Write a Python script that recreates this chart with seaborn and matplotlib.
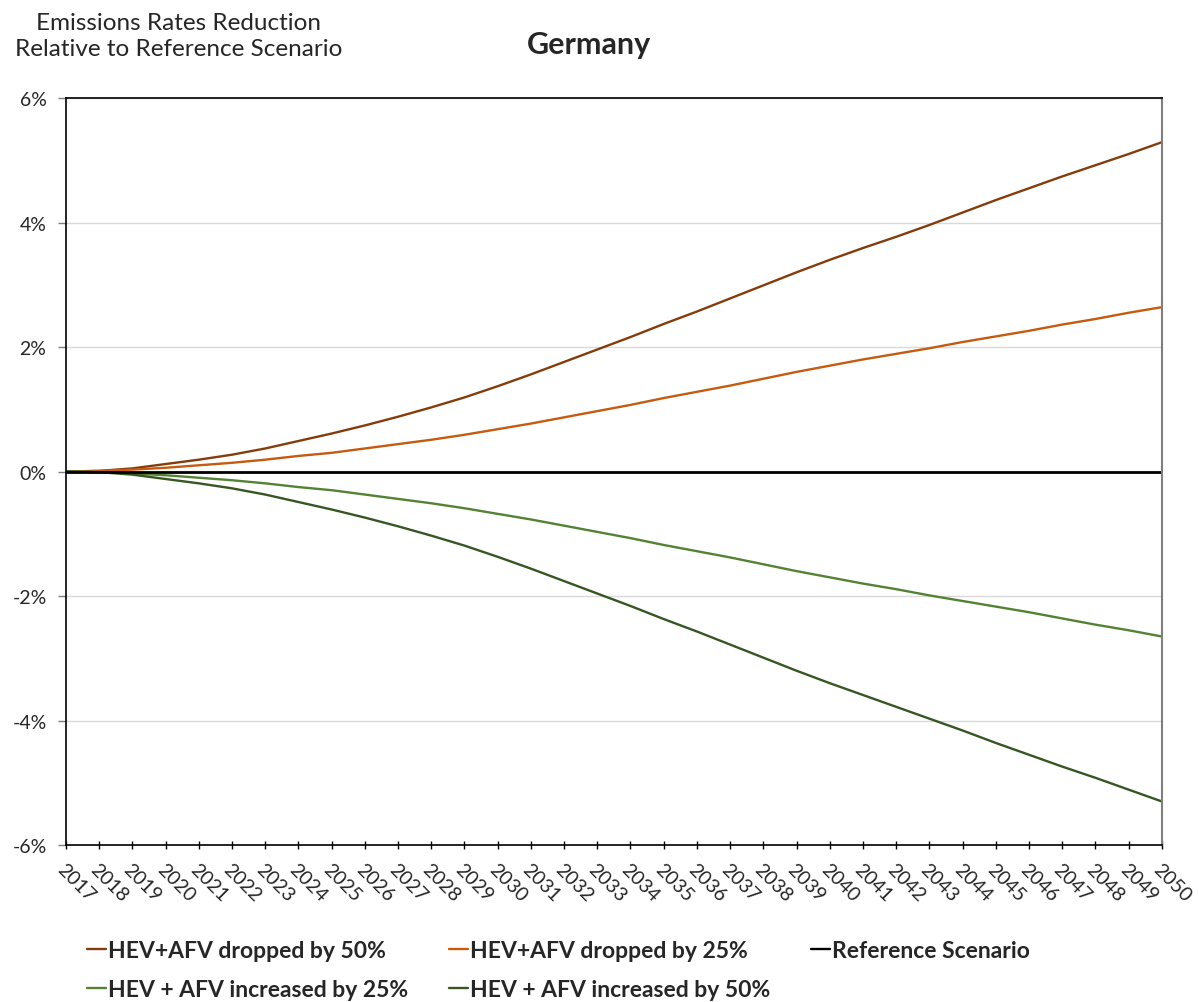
import matplotlib
matplotlib.use("Agg")
import matplotlib.pyplot as plt
import matplotlib.ticker as mticker
from matplotlib.lines import Line2D
import numpy as np
import pandas as pd
import seaborn as sns

years = list(range(2017, 2051))

dropped_50 = [0.00, 0.01, 0.05, 0.12, 0.19, 0.27, 0.37, 0.49, 0.61, 0.74,
              0.88, 1.03, 1.19, 1.37, 1.56, 1.76, 1.96, 2.16, 2.37, 2.57,
              2.78, 2.99, 3.20, 3.40, 3.59, 3.77, 3.96, 4.16, 4.36, 4.55,
              4.74, 4.92, 5.10, 5.29]
dropped_25 = [0.00, 0.01, 0.03, 0.06, 0.10, 0.14, 0.19, 0.25, 0.30, 0.37,
              0.44, 0.51, 0.59, 0.68, 0.77, 0.87, 0.97, 1.07, 1.18, 1.28,
              1.38, 1.49, 1.60, 1.70, 1.80, 1.89, 1.98, 2.08, 2.17, 2.26,
              2.36, 2.45, 2.55, 2.64]
reference = [0.0] * len(years)
increased_25 = [0.00, -0.01, -0.03, -0.06, -0.10, -0.14, -0.19, -0.25, -0.30, -0.37,
                -0.44, -0.51, -0.59, -0.68, -0.77, -0.87, -0.97, -1.07, -1.18, -1.28,
                -1.38, -1.49, -1.60, -1.70, -1.80, -1.89, -1.99, -2.08, -2.17, -2.26,
                -2.36, -2.46, -2.55, -2.65]
increased_50 = [0.00, -0.01, -0.05, -0.12, -0.19, -0.27, -0.37, -0.49, -0.61, -0.74,
                -0.88, -1.03, -1.19, -1.37, -1.56, -1.76, -1.96, -2.16, -2.37, -2.57,
                -2.78, -2.99, -3.20, -3.40, -3.59, -3.78, -3.97, -4.16, -4.36, -4.55,
                -4.74, -4.92, -5.11, -5.30]

series_names = ["HEV+AFV dropped by 50%", "HEV+AFV dropped by 25%", "Reference Scenario",
                "HEV + AFV increased by 25%", "HEV + AFV increased by 50%"]
series_values = [dropped_50, dropped_25, reference, increased_25, increased_50]
series_colors = ["#843C0C", "#C55A11", "#000000", "#548235", "#375623"]
series_widths = [1.7, 1.7, 2.0, 1.7, 1.7]

frames = []
for name, vals in zip(series_names, series_values):
    frames.append(pd.DataFrame({"Year": years, "Value": np.array(vals) / 100.0, "Series": name}))
df = pd.concat(frames, ignore_index=True)

sns.set_theme(style="white")
plt.rcParams["font.family"] = ["Lato", "DejaVu Sans"]
plt.rcParams["axes.unicode_minus"] = False

fig = plt.figure(figsize=(11.99, 10.03), dpi=100)
ax = fig.add_axes([0.055, 0.1565, 0.914, 0.7448])

# draw the reference line last so it sits on top of the curves at zero
draw_order = [0, 1, 3, 4, 2]
for i in draw_order:
    sub = df[df["Series"] == series_names[i]]
    sns.lineplot(data=sub, x="Year", y="Value", color=series_colors[i],
                 linewidth=series_widths[i], ax=ax, legend=False)

ax.set_xlim(2017, 2050)
ax.set_ylim(-0.06, 0.06)
ax.set_xticks(years)
ax.set_xticklabels([str(y) for y in years], rotation=-45, ha="left", va="top",
                   rotation_mode="anchor", fontsize=14)
ax.set_yticks(np.arange(-0.06, 0.0601, 0.02))
ax.yaxis.set_major_formatter(mticker.PercentFormatter(1.0, decimals=0))
ax.tick_params(axis="y", labelsize=14, length=6, width=1, color="#7f7f7f",
               direction="out", left=True, pad=8)
ax.tick_params(axis="x", length=6, width=1, color="black", direction="inout",
               bottom=True, pad=8)
ax.set_xlabel("")
ax.set_ylabel("")
ax.grid(axis="y", color="#D9D9D9", linewidth=1)
ax.grid(axis="x", visible=False)

for side in ["left", "bottom", "top"]:
    ax.spines[side].set_visible(True)
    ax.spines[side].set_color("black")
    ax.spines[side].set_linewidth(1.2)
ax.spines["right"].set_visible(True)
ax.spines["right"].set_color("#7f7f7f")
ax.spines["right"].set_linewidth(1.5)

fig.text(0.149, 0.964, "Emissions Rates Reduction\nRelative to Reference Scenario",
         ha="center", va="center", fontsize=17.5, linespacing=1.3)
fig.text(0.491, 0.955, "Germany", ha="center", va="center", fontsize=22, fontweight="bold")

handles = [Line2D([0], [0], color=c, linewidth=1.7) for c in series_colors]
order = [0, 3, 1, 4, 2]
leg = fig.legend([handles[i] for i in order], [series_names[i] for i in order],
                 loc="upper left", bbox_to_anchor=(0.055, 0.082), ncol=3,
                 frameon=False, handlelength=0.85, handletextpad=0.1,
                 columnspacing=1.75, labelspacing=0.78,
                 prop={"size": 16.5, "weight": "bold"})

fig.savefig("out.png", dpi=100, facecolor="white")
